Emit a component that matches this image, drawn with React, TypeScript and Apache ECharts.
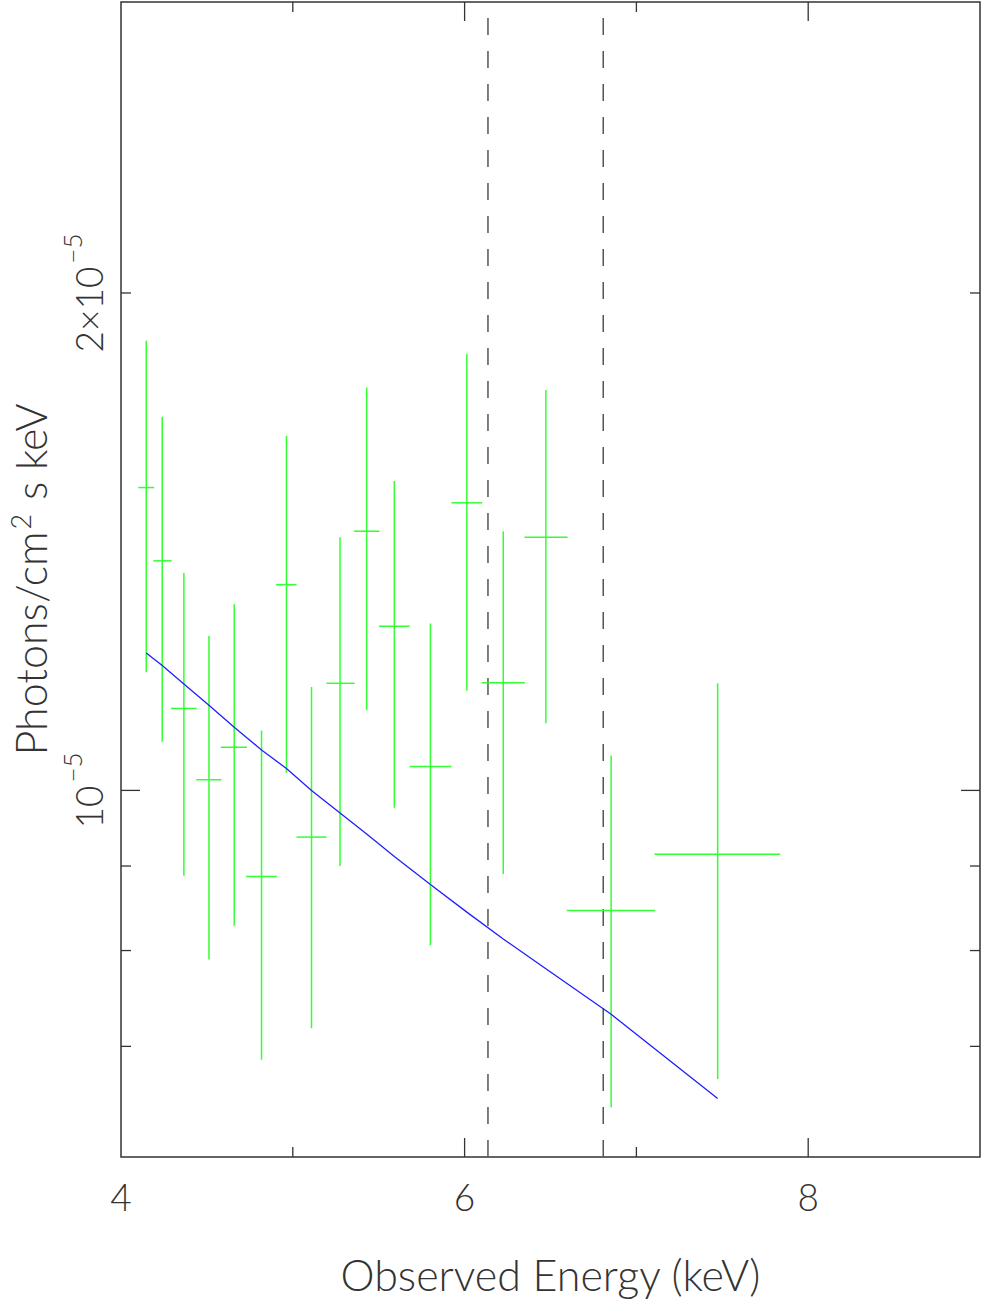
import React, { useEffect, useRef } from 'react';
import * as echarts from 'echarts';

// values in units of 1e-5 photons/cm^2/s/keV
const UNIT = 1e-5;
const energies = [4.147, 4.24, 4.366, 4.512, 4.659, 4.818, 4.963, 5.109, 5.275, 5.43, 5.591, 5.801, 6.013, 6.225, 6.473, 6.853, 7.473];
const energyLo = [4.101, 4.188, 4.291, 4.438, 4.581, 4.728, 4.903, 5.022, 5.196, 5.356, 5.502, 5.68, 5.924, 6.099, 6.349, 6.595, 7.105];
const energyHi = [4.193, 4.295, 4.44, 4.585, 4.733, 4.907, 5.022, 5.197, 5.36, 5.504, 5.68, 5.924, 6.103, 6.351, 6.599, 7.109, 7.837];
const flux = [1.525, 1.377, 1.121, 1.015, 1.062, 0.887, 1.332, 0.937, 1.161, 1.435, 1.257, 1.034, 1.493, 1.162, 1.423, 0.846, 0.915];
const fluxLo = [1.179, 1.07, 0.888, 0.79, 0.828, 0.687, 1.025, 0.718, 0.9, 1.118, 0.976, 0.806, 1.149, 0.89, 1.098, 0.643, 0.669];
const fluxHi = [1.871, 1.683, 1.354, 1.24, 1.296, 1.087, 1.639, 1.155, 1.423, 1.753, 1.539, 1.262, 1.837, 1.435, 1.747, 1.05, 1.161];
const model = [1.211, 1.19, 1.16, 1.126, 1.092, 1.058, 1.031, 1.0, 0.969, 0.941, 0.912, 0.877, 0.844, 0.813, 0.78, 0.732, 0.651];

const lineEnergies = [6.136, 6.807];
const xMin = 4;
const xMax = 9;
const yMin = 6e-6;
const yMax = 3e-5;
const xMajorTicks = [6, 8];
const xMinorTicks = [5, 7];
const yMajorTicks = [1e-5];
const yMinorTicks = [7e-6, 8e-6, 9e-6, 2e-5];
const yTickValues = [1e-5, 2e-5];
const yTickBase = ['10', '2×10'];
const yTickExp = ['−5', '−5'];

const FONT = 'Lato, "Liberation Sans", sans-serif';
const TEXT = '#333333';
const AXIS = '#333333';
const GREEN = '#33ff33';
const BLUE = '#1f1fff';

export default function App() {
  const ref = useRef<HTMLDivElement>(null);
  useEffect(() => {
    if (!ref.current) return;
    const chart = echarts.init(ref.current, undefined, { renderer: 'svg' });

    const errData = energies.map((e, i) => [e, flux[i] * UNIT, energyLo[i], energyHi[i], fluxLo[i] * UNIT, fluxHi[i] * UNIT]);
    const modelData = energies.map((e, i) => [e, model[i] * UNIT]);

    const tickStyle = { stroke: AXIS, lineWidth: 1.3 };
    const yTickRender = (len: number) => (params: any, api: any) => {
      const cs = params.coordSys;
      const p = api.coord([xMin, api.value(1)]);
      return {
        type: 'group',
        children: [
          { type: 'line', shape: { x1: cs.x, y1: p[1], x2: cs.x + len, y2: p[1] }, style: tickStyle },
          { type: 'line', shape: { x1: cs.x + cs.width, y1: p[1], x2: cs.x + cs.width - len, y2: p[1] }, style: tickStyle },
        ],
      };
    };
    const xTickRender = (len: number) => (params: any, api: any) => {
      const cs = params.coordSys;
      const p = api.coord([api.value(0), yMin]);
      return {
        type: 'group',
        children: [
          { type: 'line', shape: { x1: p[0], y1: cs.y + cs.height, x2: p[0], y2: cs.y + cs.height - len }, style: tickStyle },
          { type: 'line', shape: { x1: p[0], y1: cs.y, x2: p[0], y2: cs.y + len }, style: tickStyle },
        ],
      };
    };

    const option: any = {
      animation: false,
      backgroundColor: '#ffffff',
      grid: {
        left: 121,
        top: 2,
        right: 1,
        bottom: 145,
        containLabel: false,
        outerBoundsMode: 'none',
        show: true,
        borderColor: AXIS,
        borderWidth: 1.5,
        backgroundColor: 'transparent',
      },
      xAxis: {
        type: 'value',
        min: xMin,
        max: xMax,
        interval: 1,
        axisLine: { show: false },
        axisTick: { show: false },
        splitLine: { show: false },
        axisLabel: {
          margin: 21,
          fontSize: 37,
          fontFamily: FONT,
          fontWeight: 300,
          color: TEXT,
          formatter: (v: number) => (v % 2 === 0 ? String(v) : ''),
        },
        name: 'Observed Energy (keV)',
        nameLocation: 'middle',
        nameGap: 96,
        nameTextStyle: { fontSize: 43, fontFamily: FONT, fontWeight: 300, color: TEXT },
      },
      yAxis: {
        type: 'log',
        logBase: 10,
        min: yMin,
        max: yMax,
        axisLine: { show: false },
        axisTick: { show: false },
        splitLine: { show: false },
        minorTick: { show: false },
        minorSplitLine: { show: false },
        axisLabel: { show: false },
        name: '{b|Photons/cm}{s|2}{b| s keV}',
        nameLocation: 'middle',
        nameRotate: 90,
        nameGap: 69,
        nameTextStyle: {
          rich: {
            b: { fontSize: 43, fontFamily: FONT, fontWeight: 300, color: TEXT, verticalAlign: 'bottom' },
            s: { fontSize: 27, fontFamily: FONT, fontWeight: 300, color: TEXT, verticalAlign: 'bottom', padding: [0, 2, 18, 2] },
          },
        },
      },
      series: [
        {
          name: 'ylines',
          type: 'custom',
          silent: true,
          clip: false,
          data: lineEnergies.map((e) => [e]),
          encode: { x: 0 },
          renderItem: (params: any, api: any) => {
            const b = api.coord([api.value(0), yMin]);
            const t = api.coord([api.value(0), yMax]);
            return {
              type: 'line',
              shape: { x1: b[0], y1: b[1], x2: t[0], y2: t[1] },
              style: { stroke: '#555555', lineWidth: 1.5, lineDash: [17, 16] },
            };
          },
        },
        {
          name: 'data',
          type: 'custom',
          silent: true,
          data: errData,
          encode: { x: [0, 2, 3], y: [1, 4, 5] },
          renderItem: (params: any, api: any) => {
            const x = api.value(0);
            const y = api.value(1);
            const c = api.coord([x, y]);
            const lo = api.coord([x, api.value(4)]);
            const hi = api.coord([x, api.value(5)]);
            const l = api.coord([api.value(2), y]);
            const r = api.coord([api.value(3), y]);
            const st = { stroke: GREEN, lineWidth: 1.5 };
            return {
              type: 'group',
              children: [
                { type: 'line', shape: { x1: lo[0], y1: lo[1], x2: hi[0], y2: hi[1] }, style: st },
                { type: 'line', shape: { x1: l[0], y1: c[1], x2: r[0], y2: c[1] }, style: st },
              ],
            };
          },
        },
        {
          name: 'model',
          type: 'line',
          data: modelData,
          showSymbol: false,
          symbol: 'none',
          lineStyle: { color: BLUE, width: 1.3 },
          silent: true,
        },
        {
          name: 'yMajor', type: 'custom', silent: true, clip: false,
          data: yMajorTicks.map((v) => [xMin, v]), encode: { x: 0, y: 1 },
          renderItem: yTickRender(19),
        },
        {
          name: 'yMinor', type: 'custom', silent: true, clip: false,
          data: yMinorTicks.map((v) => [xMin, v]), encode: { x: 0, y: 1 },
          renderItem: yTickRender(10),
        },
        {
          name: 'xMajor', type: 'custom', silent: true, clip: false,
          data: xMajorTicks.map((v) => [v, yMin]), encode: { x: 0, y: 1 },
          renderItem: xTickRender(19),
        },
        {
          name: 'xMinor', type: 'custom', silent: true, clip: false,
          data: xMinorTicks.map((v) => [v, yMin]), encode: { x: 0, y: 1 },
          renderItem: xTickRender(10),
        },
        {
          name: 'yLabels', type: 'custom', silent: true, clip: false,
          data: yTickValues.map((v) => [xMin, v]), encode: { x: 0, y: 1 },
          renderItem: (params: any, api: any) => {
            const cs = params.coordSys;
            const p = api.coord([xMin, api.value(1)]);
            const i = params.dataIndex;
            return {
              type: 'text',
              x: cs.x - 38,
              y: p[1],
              rotation: Math.PI / 2,
              style: {
                text: `{b|${yTickBase[i]}}{s|${yTickExp[i]}}`,
                align: 'center',
                verticalAlign: 'middle',
                rich: {
                  b: { fontSize: 37, fontFamily: FONT, fontWeight: 300, fill: TEXT, verticalAlign: 'bottom' },
                  s: { fontSize: 26, fontFamily: FONT, fontWeight: 300, fill: TEXT, verticalAlign: 'bottom', padding: [0, 0, 22, 3] },
                },
              },
            };
          },
        },
      ],
    };
    chart.setOption(option);
    return () => chart.dispose();
  }, []);
  return <div ref={ref} style={{ position: 'absolute', left: 0, top: 0, width: 981, height: 1302 }} />;
}
